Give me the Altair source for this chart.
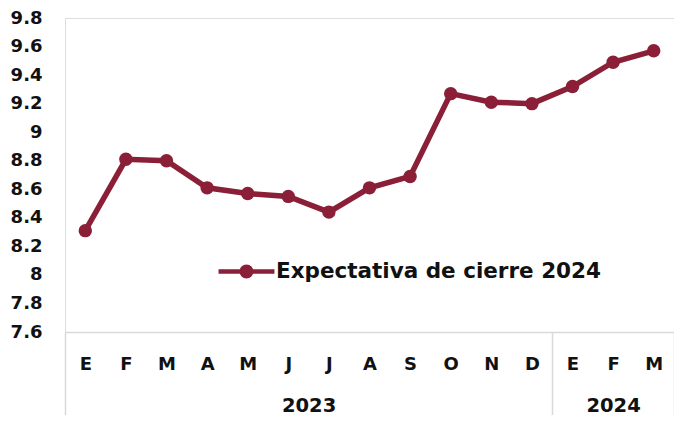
import altair as alt
import pandas as pd
import numpy as np

# ---- data ----
months = ["E", "F", "M", "A", "M", "J", "J", "A", "S", "O", "N", "D", "E", "F", "M"]
years_of_month = ["2023"] * 12 + ["2024"] * 3
values = [8.31, 8.81, 8.80, 8.61, 8.57, 8.55, 8.44, 8.61, 8.69, 9.27, 9.21, 9.20, 9.32, 9.49, 9.57]
series_name = "Expectativa de cierre 2024"
years = ["2023", "2024"]
year_counts = [12, 3]
y_ticks = [7.6, 7.8, 8.0, 8.2, 8.4, 8.6, 8.8, 9.0, 9.2, 9.4, 9.6, 9.8]

COLOR = "#8A1F37"
FONT = "DejaVu Sans"
GRAY = "#d9d9d9"

df = pd.DataFrame({
    "key": [f"{y}-{i:02d}-{m}" for i, (y, m) in enumerate(zip(years_of_month, months))],
    "value": values,
    "serie": [series_name] * len(values),
})

n = len(months)
ends = [int(e) for e in np.cumsum(year_counts)]
starts = [0] + ends[:-1]
bounds_df = pd.DataFrame({"b": [0] + ends})
mids = [s + c / 2 for s, c in zip(starts, year_counts)]
mid_df = pd.DataFrame({"mid": mids, "year": years})
year_expr = " : ".join(
    [f"datum.value == {m} ? '{y}'" for m, y in zip(mids[:-1], years[:-1])] + [f"'{years[-1]}'"]
)

W, H = 609, 314

y_enc = alt.Y(
    "value:Q",
    scale=alt.Scale(domain=[7.6, 9.8], nice=False, zero=False),
    axis=alt.Axis(
        values=y_ticks, format="~g", title=None, domain=False, ticks=False, grid=False,
        labelFont=FONT, labelFontWeight="bold", labelFontSize=18, labelColor="#111111",
        labelPadding=23,
    ),
)
x_enc = alt.X(
    "key:O", sort=None,
    axis=alt.Axis(
        orient="bottom", title=None, labelAngle=0, ticks=False, domain=True, domainColor=GRAY,
        domainWidth=1.5, labelExpr="split(datum.value, '-')[2]", labelFont=FONT,
        labelFontWeight="bold", labelFontSize=18, labelColor="#111111", labelPadding=23,
        grid=False,
    ),
)

line = alt.Chart(df).mark_line(color=COLOR, strokeWidth=5.5).encode(x=x_enc, y=y_enc)

sym_path = ("M -2.5 -0.2 L 2.5 -0.2 L 2.5 0.2 L -2.5 0.2 Z "
            "M -0.62 0 A 0.62 0.62 0 1 1 0.62 0 A 0.62 0.62 0 1 1 -0.62 0 Z")

points = alt.Chart(df).mark_point(filled=True, size=180, opacity=1).encode(
    x=x_enc, y=y_enc,
    color=alt.Color(
        "serie:N",
        scale=alt.Scale(domain=[series_name], range=[COLOR]),
        legend=alt.Legend(
            title=None, orient="none", legendX=170, legendY=242, padding=0,
            symbolType=sym_path, symbolSize=500, symbolStrokeWidth=0, symbolOpacity=1,
            labelFont=FONT, labelFontWeight="bold", labelFontSize=21.5, labelColor="#111111",
            labelOffset=18, labelLimit=500,
        ),
    ),
)

main = alt.layer(line, points)

seps = alt.Chart(bounds_df).mark_point(opacity=0).encode(
    x=alt.X("b:Q", scale=alt.Scale(domain=[0, n], nice=False, zero=False),
            axis=alt.Axis(orient="bottom", values=[0] + ends, labels=False, domain=False,
                          ticks=True, tickSize=95, tickColor=GRAY, tickWidth=1.5, grid=False,
                          title=None)),
)

year_lab = alt.Chart(mid_df).mark_point(opacity=0).encode(
    x=alt.X("mid:Q", scale=alt.Scale(domain=[0, n], nice=False, zero=False),
            axis=alt.Axis(orient="bottom", values=mids, labelExpr=year_expr, domain=False,
                          ticks=False, grid=False, title=None, labelFont=FONT,
                          labelFontWeight="bold", labelFontSize=19.5, labelColor="#111111",
                          labelPadding=64)),
)

chart = (
    alt.layer(main, seps, year_lab)
    .resolve_scale(x="independent")
    .properties(
        width=W, height=H,
        autosize=alt.AutoSizeParams(type="none"),
        padding={"left": 57, "top": 10, "right": 0, "bottom": 83},
    )
    .configure_view(stroke=None)
    .configure(background="white")
)

chart.save("out.html", embed_options={"renderer": "svg", "actions": False})
